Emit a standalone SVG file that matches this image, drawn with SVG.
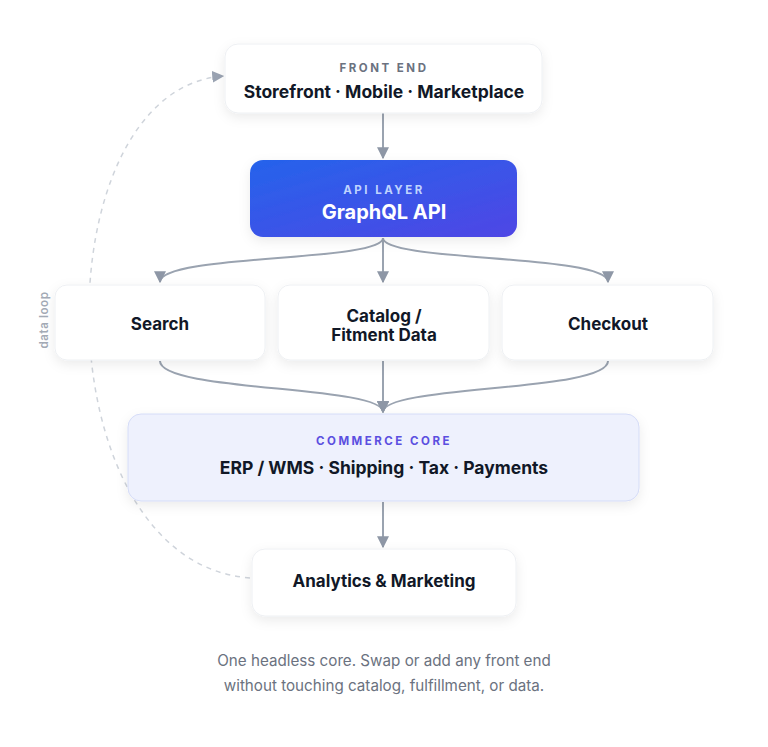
<svg xmlns="http://www.w3.org/2000/svg" width="768" height="747" viewBox="0 0 768 747">
  <defs>
    <linearGradient id="apiGrad" x1="0" y1="0" x2="1" y2="1">
      <stop offset="0" stop-color="#2563eb"/>
      <stop offset="1" stop-color="#4f46e5"/>
    </linearGradient>
    <filter id="shadow" x="-20%" y="-30%" width="140%" height="170%">
      <feDropShadow dx="0" dy="4" stdDeviation="6" flood-color="#0f172a" flood-opacity="0.08"/>
    </filter>
    <marker id="arrow" viewBox="0 0 10 10" refX="9" refY="5" markerWidth="12" markerHeight="12" markerUnits="userSpaceOnUse" orient="auto">
      <path d="M0,0 L10,5 L0,10 Z" fill="#8e97a6"/>
    </marker>
    <marker id="arrowLoop" viewBox="0 0 10 10" refX="9" refY="5" markerWidth="12" markerHeight="12" markerUnits="userSpaceOnUse" orient="auto">
      <path d="M0,0 L10,5 L0,10 Z" fill="#9aa3b2"/>
    </marker>
  </defs>
  <style>
    text { font-family: Inter, "Liberation Sans", sans-serif; text-anchor: middle; }
    .card { fill: #ffffff; stroke: #eef0f3; stroke-width: 1; filter: url(#shadow); }
    .eyebrow { font-size: 11.5px; font-weight: 700; letter-spacing: 2.5px; fill: #6b7280; }
    .title { font-size: 17.5px; font-weight: 700; fill: #111827; }
    .node { font-size: 17px; font-weight: 700; fill: #111827; }
    .edge { fill: none; stroke: #9aa3b0; stroke-width: 2; marker-end: url(#arrow); }
    .loop { fill: none; stroke: #cfd4db; stroke-width: 1.5; stroke-dasharray: 5 5; marker-end: url(#arrowLoop); }
    .caption { font-size: 15.2px; fill: #6b7280; }
  </style>
  <rect width="768" height="747" fill="#ffffff"/>

  <g id="connectors">
    <path class="edge" d="M383,113 L383,158"/>
    <path class="edge" d="M383,238 C383,262 160,254 160,282"/>
    <path class="edge" d="M383,238 L383,282"/>
    <path class="edge" d="M383,238 C383,262 608,254 608,282"/>
    <path class="edge" d="M160,361 C160,392 383,385 383,412"/>
    <path class="edge" d="M383,361 L383,412"/>
    <path class="edge" d="M608,361 C608,392 383,385 383,412"/>
    <path class="edge" d="M383,502 L383,547"/>
    <path class="loop" d="M250,578 C40,562 40,90 223,76"/>
    <text x="45" y="320" transform="rotate(-90 45 320)" style="font-size:11.5px;font-weight:600;fill:#a3aab5;letter-spacing:0.6px" dominant-baseline="middle">data loop</text>
  </g>

  <g id="front-end">
    <rect class="card" x="225" y="44" width="317" height="69" rx="13"/>
    <text class="eyebrow" x="384" y="72">FRONT END</text>
    <text class="title" x="384" y="98">Storefront · Mobile · Marketplace</text>
  </g>

  <g id="api-layer">
    <rect x="250" y="160" width="267" height="77" rx="13" fill="url(#apiGrad)" filter="url(#shadow)"/>
    <text class="eyebrow" x="384" y="194" style="fill:#bfd3fe">API LAYER</text>
    <text x="384" y="219" style="font-size:20px;font-weight:700;fill:#ffffff">GraphQL API</text>
  </g>

  <g id="search">
    <rect class="card" x="55" y="285" width="210" height="75" rx="12"/>
    <text class="node" x="160" y="330">Search</text>
  </g>

  <g id="catalog">
    <rect class="card" x="278" y="285" width="211" height="75" rx="12"/>
    <text class="node" x="384" y="322">Catalog /</text>
    <text class="node" x="384" y="341">Fitment Data</text>
  </g>

  <g id="checkout">
    <rect class="card" x="502" y="285" width="211" height="75" rx="12"/>
    <text class="node" x="608" y="330">Checkout</text>
  </g>

  <g id="commerce-core">
    <rect x="128" y="414" width="511" height="87" rx="13" fill="#eef1fd" stroke="#d5dcf7" stroke-width="1" filter="url(#shadow)"/>
    <text class="eyebrow" x="384" y="445" style="fill:#5b4fe0">COMMERCE CORE</text>
    <text class="title" x="384" y="474">ERP / WMS · Shipping · Tax · Payments</text>
  </g>

  <g id="analytics">
    <rect class="card" x="252" y="549" width="264" height="67" rx="13"/>
    <text class="node" x="384" y="587">Analytics &amp; Marketing</text>
  </g>

  <g id="caption">
    <text class="caption" x="384" y="666">One headless core. Swap or add any front end</text>
    <text class="caption" x="384" y="691">without touching catalog, fulfillment, or data.</text>
  </g>
</svg>
